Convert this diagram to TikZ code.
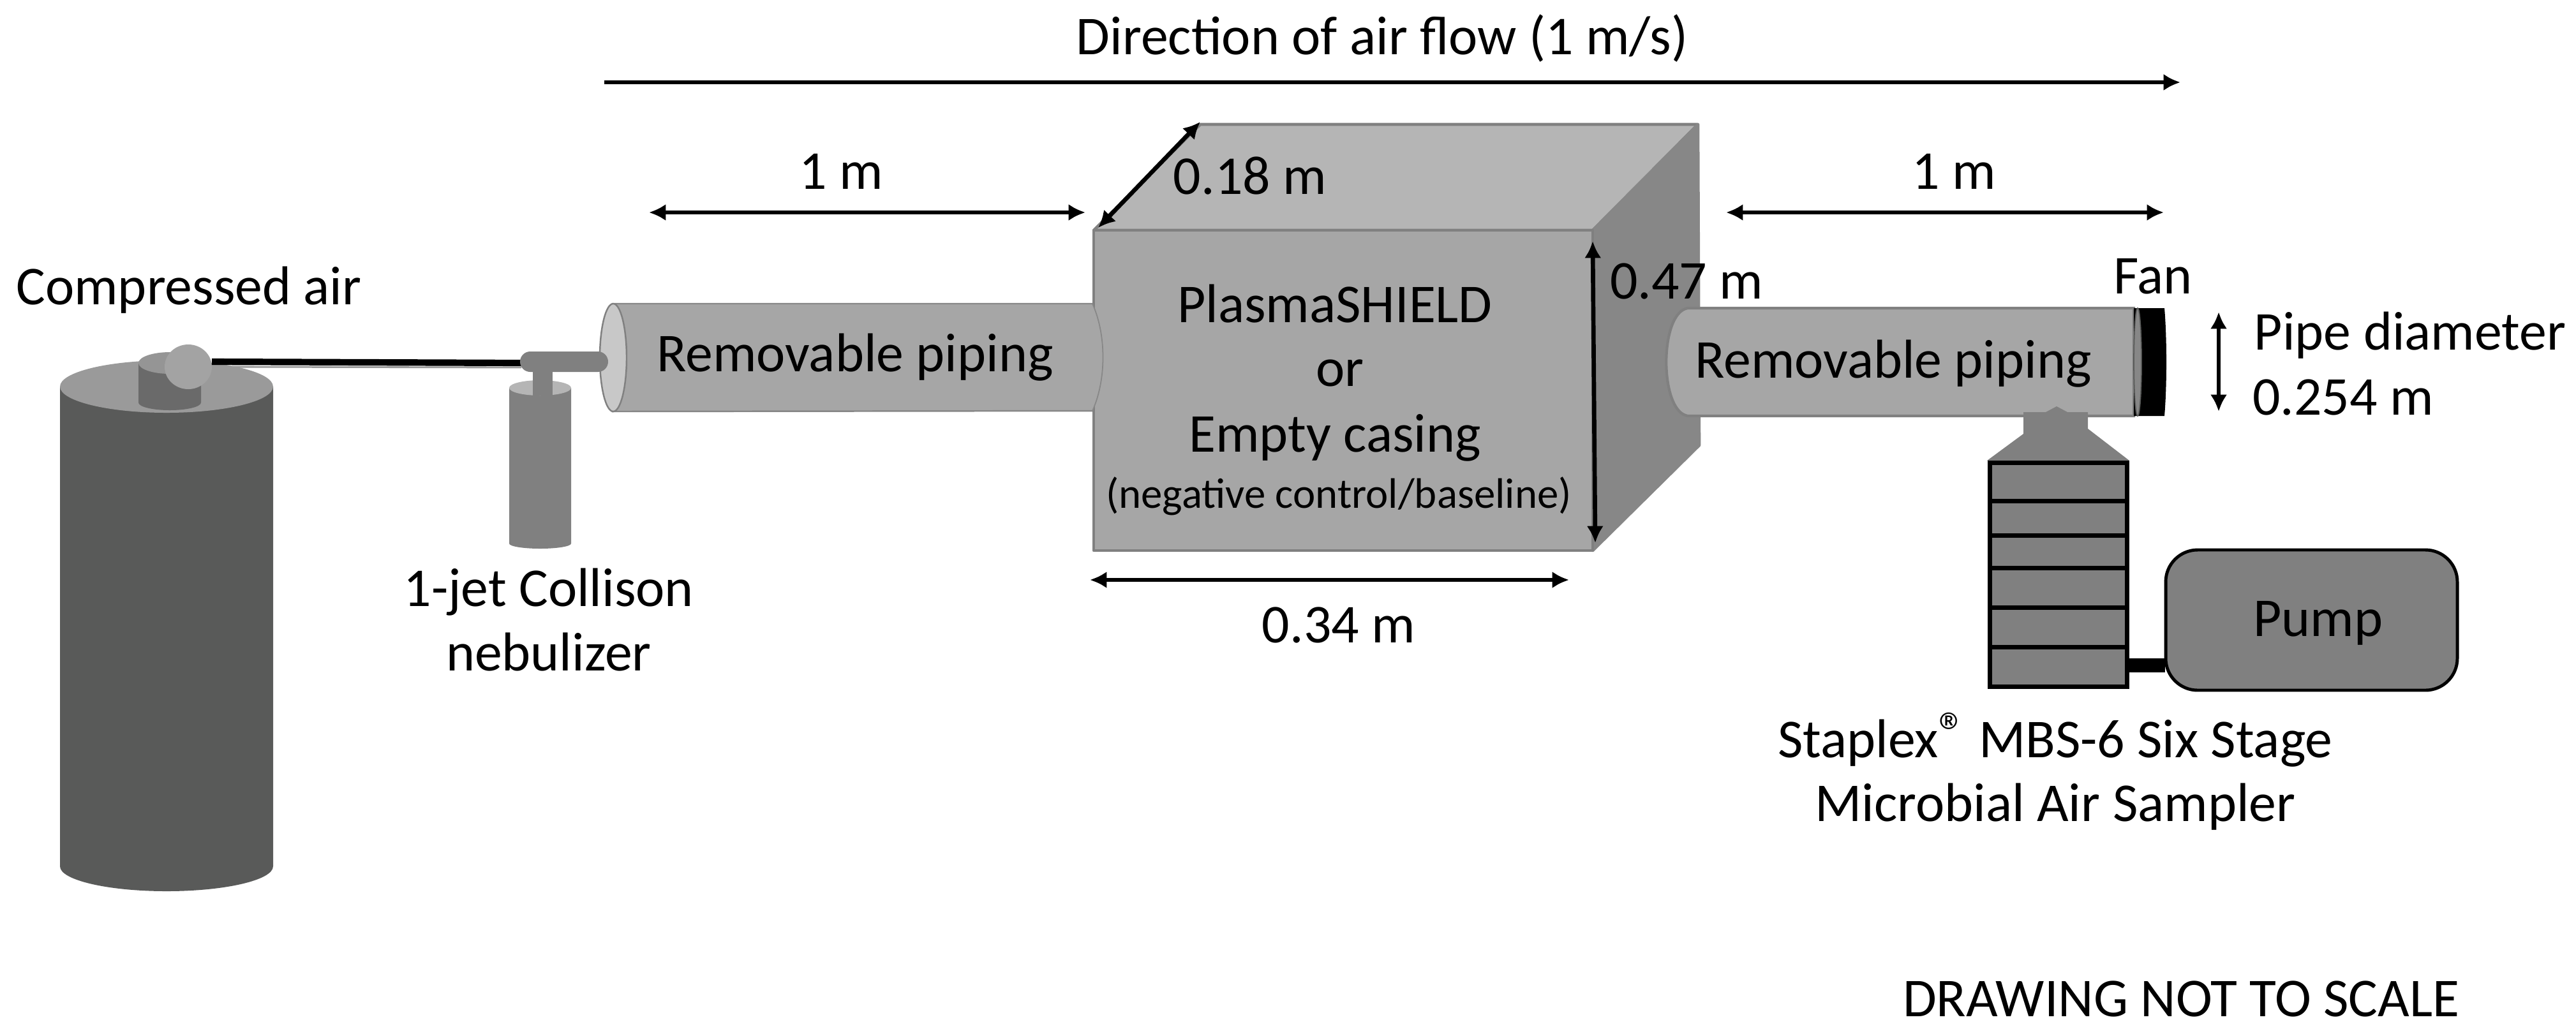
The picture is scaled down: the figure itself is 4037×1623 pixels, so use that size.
\documentclass[tikz,border=0pt]{standalone}
\usepackage{fontspec}
\setmainfont{Carlito}
\usetikzlibrary{arrows.meta}
\definecolor{tankgray}{HTML}{595A59}
\definecolor{tanktop}{HTML}{9A9A9A}
\definecolor{valvebody}{HTML}{6A6A6A}
\definecolor{ballgray}{HTML}{A3A3A3}
\definecolor{midgray}{HTML}{808080}
\definecolor{pipegray}{HTML}{A6A6A6}
\definecolor{pipeend}{HTML}{C8C8C8}
\definecolor{boxtop}{HTML}{B5B5B5}
\definecolor{boxside}{HTML}{878787}
\tikzset{
  lbl/.style={anchor=base,inner sep=0pt,font=\fontsize{24.4}{30}\selectfont},
  dimarrow/.style={{Latex[length=7.5pt,width=7.5pt]}-{Latex[length=7.5pt,width=7.5pt]},line width=1.9pt,black},
  boxface/.style={draw=midgray,line width=1.3pt,line join=round},
}
\begin{document}
\begin{tikzpicture}[x=0.01cm,y=-0.01cm]
    \useasboundingbox (0,0) rectangle (4037,1623);

    \fill[tankgray] (94,606) -- (94,1358) arc[start angle=180,end angle=360,x radius=167,y radius=-39] -- (428,606) -- cycle;
    \fill[tanktop] (261,606) ellipse [x radius=167,y radius=41];
    \fill[valvebody] (217,569) -- (217,631) arc[start angle=180,end angle=360,x radius=49,y radius=-12] -- (315,569) -- cycle;
    \fill[tanktop!105] (266,569) ellipse [x radius=49,y radius=17];
    \fill[ballgray] (295,575) ellipse [x radius=37,y radius=35];

    \fill[midgray] (798,608) -- (798,852) arc[start angle=180,end angle=360,x radius=48.5,y radius=-8] -- (895,608) -- cycle;
    \fill[boxtop] (846.5,608) ellipse [x radius=48.5,y radius=12];
    \fill[midgray] (835,575) rectangle (866,620);

    \filldraw[fill=pipegray,draw=boxside,line width=0.7pt] (960,476) -- (1714,476) -- (1714,644) -- (960,645) -- cycle;
    \filldraw[fill=pipeend,draw=midgray,line width=0.7pt] (961,560.5) ellipse [x radius=21,y radius=84.5];

    \coordinate (tubeA) at (332,567);
    \coordinate (tubeB) at (817,569);
    \draw[line width=0.8pt,tanktop] (332,575) -- (817,576);
    \draw[line width=2.9pt,black] (tubeA) -- (tubeB);
    \fill[midgray,rounded corners=0.16cm] (815,551) rectangle (953,583);

    \filldraw[fill=boxtop,boxface] (1714,361) -- (1881,195) -- (2661,195) -- (2496,361) -- cycle;
    \filldraw[fill=boxside,boxface,draw=boxside] (2496,361) -- (2661,195) -- (2663,698) -- (2496,863) -- cycle;
    \filldraw[fill=pipegray,boxface] (1714,361) rectangle (2496,863);
    \filldraw[fill=pipegray,draw=boxside,line width=0.5pt] (1712,476) .. controls (1734,525) and (1734,595) .. (1712,644);

    \filldraw[fill=pipegray,draw=midgray,line width=1.2pt] (3344,483) -- (2645,483) .. controls (2600,490) and (2600,645) .. (2645,652) -- (3344,652) -- cycle;
    \fill[black] (3344,483) -- (3392,483) .. controls (3396,530) and (3396,605) .. (3392,652) -- (3344,652) -- cycle;
    \filldraw[fill=boxside,draw=tankgray,line width=0.5pt] (3350,567.5) ellipse [x radius=6,y radius=84.5];

    \fill[midgray] (3223,637) -- (3240,646) -- (3272,646) -- (3272,672) -- (3337,722) -- (3114,722) -- (3171,680) -- (3171,646) -- (3206,646) -- cycle;
    \filldraw[fill=midgray,draw=black,line width=2pt] (3118,725) rectangle (3333,1076);
    \foreach \ybar in {785,839,890,952,1014}
        \draw[black,line width=2pt] (3118,\ybar) -- (3333,\ybar);

    \filldraw[fill=midgray,draw=black,line width=1.4pt,rounded corners=0.5cm] (3394,862) rectangle (3851,1082);
    \fill[black] (3337,1032) rectangle (3393,1054);

    \coordinate (flowA) at (947,129);
    \coordinate (flowB) at (3417,129);
    \draw[-{Latex[length=7.5pt,width=7.5pt]},line width=1.7pt] (flowA) -- (flowB);
    \coordinate (inA) at (1017,333);
    \coordinate (inB) at (1701,333);
    \draw[dimarrow] (inA) -- (inB);
    \coordinate (outA) at (2705,333);
    \coordinate (outB) at (3391,333);
    \draw[dimarrow] (outA) -- (outB);
    \coordinate (deepA) at (1721,357);
    \coordinate (deepB) at (1881,191);
    \draw[dimarrow] (deepA) -- (deepB);
    \coordinate (highA) at (2496,378);
    \coordinate (highB) at (2500,851);
    \draw[dimarrow] (highA) -- (highB);
    \coordinate (wideA) at (1708,909);
    \coordinate (wideB) at (2459,909);
    \draw[dimarrow] (wideA) -- (wideB);
    \coordinate (diamA) at (3477,489);
    \coordinate (diamB) at (3477,645);
    \draw[dimarrow] (diamA) -- (diamB);

    \node[lbl] (flowlbl) at (2166,85) {Direction of air flow (1 m/s)};
    \node[lbl] (inlbl) at (1318,296) {1 m};
    \node[lbl] (outlbl) at (3062,296) {1 m};
    \node[lbl] (deeplbl) at (1959,304) {0.18 m};
    \node[lbl] (highlbl) at (2643,468) {0.47 m};
    \node[lbl] (widelbl) at (2098,1007) {0.34 m};
    \node[lbl] (airlbl) at (296,477) {Compressed air};
    \node[lbl] (nebA) at (860,950) {1-jet Collison};
    \node[lbl] (nebB) at (860,1051) {nebulizer};
    \node[lbl] (pipeL) at (1340,582) {Removable piping};
    \node[lbl] (pipeR) at (2967,592) {Removable piping};
    \node[lbl] (unitA) at (2092,505) {PlasmaSHIELD};
    \node[lbl] (unitB) at (2100,605) {or};
    \node[lbl] (unitC) at (2092,708) {Empty casing};
    \node[lbl,font=\fontsize{19}{24}\selectfont] (unitD) at (2098,796) {(negative control/baseline)};
    \node[lbl] (fanlbl) at (3374,460) {Fan};
    \node[lbl] (diamlblA) at (3777,548) {Pipe diameter};
    \node[lbl] (diamlblB) at (3672,650) {0.254 m};
    \node[lbl] (pumplbl) at (3633,997) {Pump};
    \node[lbl] (staplexA) at (3221,1187) {Staplex\raisebox{0.25ex}{®} MBS-6 Six Stage};
    \node[lbl] (staplexB) at (3221,1287) {Microbial Air Sampler};
    \node[lbl] (scalelbl) at (3418,1593) {DRAWING NOT TO SCALE};
\end{tikzpicture}
\end{document}
